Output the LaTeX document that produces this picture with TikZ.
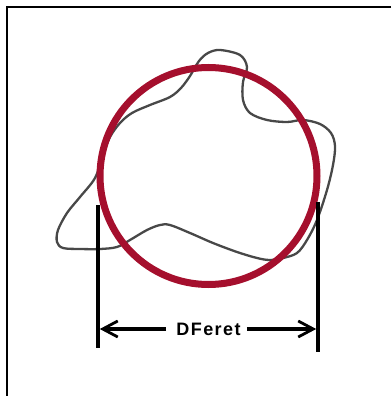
\documentclass[tikz,border=0pt]{standalone}
\usepackage{fontspec}
\setmainfont{Liberation Sans}
\usetikzlibrary{arrows.meta}
\definecolor{feretred}{RGB}{165,15,45}
\definecolor{blobgray}{RGB}{72,72,72}
\tikzset{
  frameline/.style={line width=2.2pt, black},
  blobline/.style={line width=2.3pt, blobgray, line join=round},
  ringline/.style={line width=7pt, feretred},
  caliper/.style={line width=4.2pt, black},
  dimarrow/.style={line width=3.2pt, black, -{Straight Barb[length=15pt,width=16pt,line width=2.8pt]}},
  dimlabel/.style={font=\fontsize{18}{20}\selectfont\addfontfeature{LetterSpace=8}\bfseries, inner sep=0pt}
}
\begin{document}
\begin{tikzpicture}[x=1pt,y=-1pt]
\useasboundingbox (0,0) rectangle (391,396);
% frame (top and left edges)
\coordinate (F1) at (391,7.3);
\coordinate (F2) at (7.3,7.3);
\coordinate (F3) at (7.3,396);
\draw[frameline] (F1) -- (F2) -- (F3);
% irregular particle outline
\draw[blobline] plot[smooth cycle, tension=0.55] coordinates {
 (220,50) (240,55) (247,67) (243,82) (243,100) (250,113) (267,120) (287,122)
 (303,120) (320,124) (331,133) (335,146) (333,165) (327,190) (317,220)
 (307,240) (297,253) (283,258) (270,260) (257,258) (237,252) (213,243)
 (190,233) (170,225) (160,225) (147,230) (130,240) (117,247) (100,249)
 (80,249) (63,248) (57,242) (58,230) (67,213) (80,197) (95,178) (103,155)
 (110,137) (120,123) (132,113) (150,105) (170,97) (181,88) (190,76)
 (199,61) (208,53)};
% equivalent circle
\node[circle, draw=none, minimum size=217pt, inner sep=0pt] (ring) at (208.5,176) {};
\draw[ringline] (ring.center) circle[radius=108.5];
% caliper lines
\coordinate (L1) at (97.7,205);
\coordinate (L2) at (97.7,348);
\coordinate (R1) at (318.3,202);
\coordinate (R2) at (318.3,352);
\draw[caliper] (L1) -- (L2);
\draw[caliper] (R1) -- (R2);
% dimension
\node[dimlabel] (lab) at (208.5,329) {DFeret};
\coordinate (La) at (99.8,329);
\coordinate (Ra) at (316.2,329);
\draw[dimarrow] ([xshift=-10pt]lab.west) -- (La);
\draw[dimarrow] ([xshift=6pt]lab.east) -- (Ra);
\end{tikzpicture}
\end{document}
